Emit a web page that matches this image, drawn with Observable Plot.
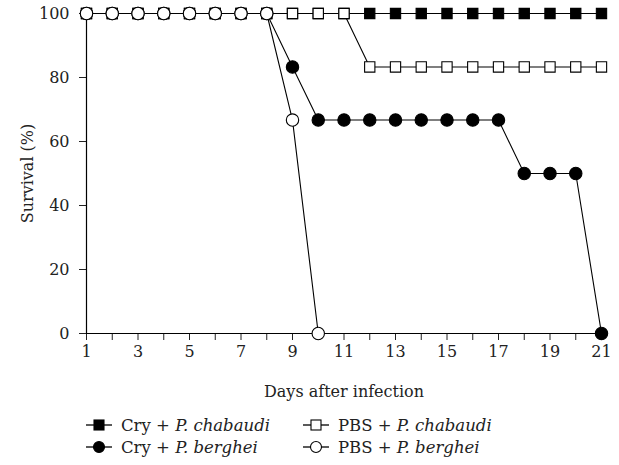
<!DOCTYPE html>
<html>
<head>
<meta charset="utf-8">
<script src="https://cdn.jsdelivr.net/npm/d3@7"></script>
<script src="https://cdn.jsdelivr.net/npm/@observablehq/plot@0.6"></script>
<style>
  body { margin: 0; background: #fff; font-family: "DejaVu Serif", serif; }
  #wrap { position: relative; width: 619px; height: 465px; }
  #chart svg, #chart svg text { font-family: "DejaVu Serif", serif !important; font-size: 15px !important; }
  #chart svg [aria-label$="label"] text, #chart svg text.label { font-size: 16px !important; }
  #chart svg text { fill: #222; }
  .leg { position: absolute; display: flex; align-items: center; font-size: 16.5px; color: #222; white-space: nowrap; }
  .leg svg { margin-right: 9px; }
</style>
</head>
<body>
<div id="wrap">
  <div id="chart"></div>
  <div id="legend"></div>
</div>
<script>
const days = [1,2,3,4,5,6,7,8,9,10,11,12,13,14,15,16,17,18,19,20,21];
const cryChabaudi = [100,100,100,100,100,100,100,100,100,100,100,100,100,100,100,100,100,100,100,100,100];
const pbsChabaudi = [100,100,100,100,100,100,100,100,100,100,100,83.3,83.3,83.3,83.3,83.3,83.3,83.3,83.3,83.3,83.3];
const cryBerghei  = [100,100,100,100,100,100,100,100,83.3,66.7,66.7,66.7,66.7,66.7,66.7,66.7,66.7,50,50,50,0];
const pbsBerghei  = [100,100,100,100,100,100,100,100,66.7,0];
const yTicks = [0,20,40,60,80,100];

const seriesDefs = [
  {name: "Cry + ", species: "P. chabaudi", values: cryChabaudi, symbol: "square", fill: "black"},
  {name: "PBS + ", species: "P. chabaudi", values: pbsChabaudi, symbol: "square", fill: "white"},
  {name: "Cry + ", species: "P. berghei", values: cryBerghei, symbol: "circle", fill: "black"},
  {name: "PBS + ", species: "P. berghei", values: pbsBerghei, symbol: "circle", fill: "white"}
];
const rows = seriesDefs.flatMap((s, i) => s.values.map((v, j) => ({series: i, day: days[j], value: v})));

const marks = [
  Plot.axisY({ticks: yTicks, tickSize: 7, tickPadding: 10, label: null}),
  Plot.axisX({ticks: days, tickSize: 7, tickPadding: 5, tickFormat: d => d % 2 ? String(d) : "", label: null}),
  Plot.axisY({ticks: [], label: "Survival (%)", labelAnchor: "center", labelArrow: "none", labelOffset: 65, ariaLabel: "y-axis label"}),
  Plot.axisX({ticks: [], label: "Days after infection", labelAnchor: "center", labelArrow: "none", labelOffset: 63, ariaLabel: "x-axis label"}),
  Plot.ruleX([1], {y1: 0, y2: 100, stroke: "black", strokeWidth: 1.2}),
  Plot.ruleY([0], {x1: 1, x2: 21, stroke: "black", strokeWidth: 1.2}),
  Plot.line(rows, {x: "day", y: "value", z: "series", stroke: "black", strokeWidth: 1.1})
];
seriesDefs.forEach((s, i) => {
  marks.push(Plot.dot(rows.filter(d => d.series === i), {
    x: "day", y: "value", symbol: s.symbol, r: s.symbol === "square" ? 5.8 : 6.2,
    fill: s.fill, stroke: "black", strokeWidth: 1.1
  }));
});

const chart = Plot.plot({
  width: 619, height: 405,
  marginLeft: 86, marginRight: 18, marginTop: 13, marginBottom: 72,
  style: {fontFamily: "DejaVu Serif, serif", fontSize: "15px", color: "#222", background: "white"},
  x: {domain: [1, 21]},
  y: {domain: [0, 100]},
  marks
});
document.getElementById("chart").appendChild(chart);

// Legend
const legPos = [
  {left: 86, top: 415}, {left: 303, top: 415},
  {left: 86, top: 437}, {left: 303, top: 437}
];
const legend = document.getElementById("legend");
seriesDefs.forEach((s, i) => {
  const div = document.createElement("div");
  div.className = "leg";
  div.style.left = legPos[i].left + "px";
  div.style.top = legPos[i].top + "px";
  const shape = s.symbol === "square"
    ? `<rect x="8" y="5" width="10" height="10" fill="${s.fill}" stroke="black" stroke-width="1.1"/>`
    : `<circle cx="13" cy="10" r="5.5" fill="${s.fill}" stroke="black" stroke-width="1.1"/>`;
  div.innerHTML = `<svg width="26" height="20"><line x1="0" x2="26" y1="10" y2="10" stroke="black" stroke-width="1.3"/>${shape}</svg><span>${s.name}<i>${s.species}</i></span>`;
  legend.appendChild(div);
});
</script>
</body>
</html>
